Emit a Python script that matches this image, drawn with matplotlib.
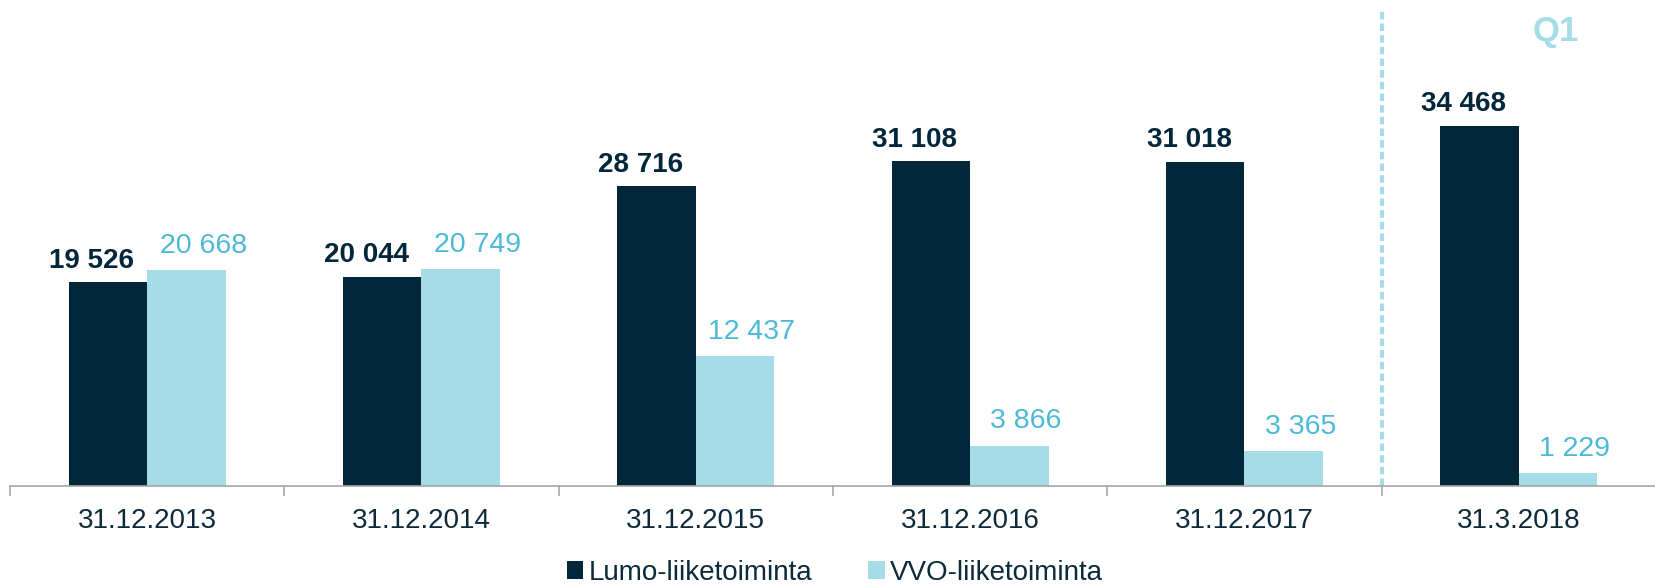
import numpy as np
import matplotlib.pyplot as plt

plt.rcParams['font.family'] = ['Liberation Sans', 'DejaVu Sans']

# data
kategoriat = ["31.12.2013", "31.12.2014", "31.12.2015", "31.12.2016", "31.12.2017", "31.3.2018"]
lumo = [19526, 20044, 28716, 31108, 31018, 34468]
vvo = [20668, 20749, 12437, 3866, 3365, 1229]

tumma = "#02273A"
vaalea = "#A5DCE8"
vaalea_teksti = "#4DB9D6"
teksti = "#0E2A3A"

def fmt(v):
    return f"{v:,}".replace(",", " ")

fig = plt.figure(figsize=(16.56, 5.86), dpi=100)
ax = fig.add_axes([10 / 1656, 1 - 486 / 586, 1 - 10 / 1656, 486 / 586])

x = np.arange(len(kategoriat))
w = 0.286
b1 = ax.bar(x - w / 2, lumo, w, color=tumma, label="Lumo-liiketoiminta")
b2 = ax.bar(x + w / 2, vvo, w, color=vaalea, label="VVO-liiketoiminta")

for r, v in zip(b1, lumo):
    ax.annotate(fmt(v), (r.get_x() + r.get_width() / 2, v), xytext=(-11.5, 6),
                textcoords="offset points", ha="center", va="bottom",
                fontsize=20, fontweight="bold", color=tumma)
for r, v in zip(b2, vvo):
    ax.annotate(fmt(v), (r.get_x() + r.get_width() / 2, v), xytext=(12, 8),
                textcoords="offset points", ha="center", va="bottom",
                fontsize=20.5, color=vaalea_teksti)

ax.set_xlim(-0.5, len(kategoriat) - 0.5)
ax.set_ylim(0, 46500)

# Q1-erotin
ax.plot([4.5, 4.5], [0, 45600], color=vaalea, lw=3, ls=(0, (1.8, 1.0)), zorder=0)
ax.text(5.135, 43440, "Q1", ha="center", va="center", fontsize=25,
        fontweight="bold", color=vaalea)

for s in ["top", "right", "left"]:
    ax.spines[s].set_visible(False)
ax.spines["bottom"].set_color("#A6A6A6")
ax.spines["bottom"].set_linewidth(1.2)
ax.set_yticks([])
ax.set_xticks(x)
ax.set_xticklabels(kategoriat, fontsize=20, color=teksti)
ax.tick_params(axis="x", which="major", length=0, pad=16)
ax.set_xticks(np.arange(-0.5, len(kategoriat) - 0.5, 1.0), minor=True)
ax.tick_params(axis="x", which="minor", length=7, width=1.2, color="#A6A6A6")

fig.legend(loc="center", bbox_to_anchor=(835 / 1656, 1 - 573 / 586), ncol=2,
           frameon=False, fontsize=20, handlelength=0.6, handleheight=0.6,
           handletextpad=0.2, columnspacing=2.0, labelcolor=teksti)

fig.savefig("out.png", dpi=100)
